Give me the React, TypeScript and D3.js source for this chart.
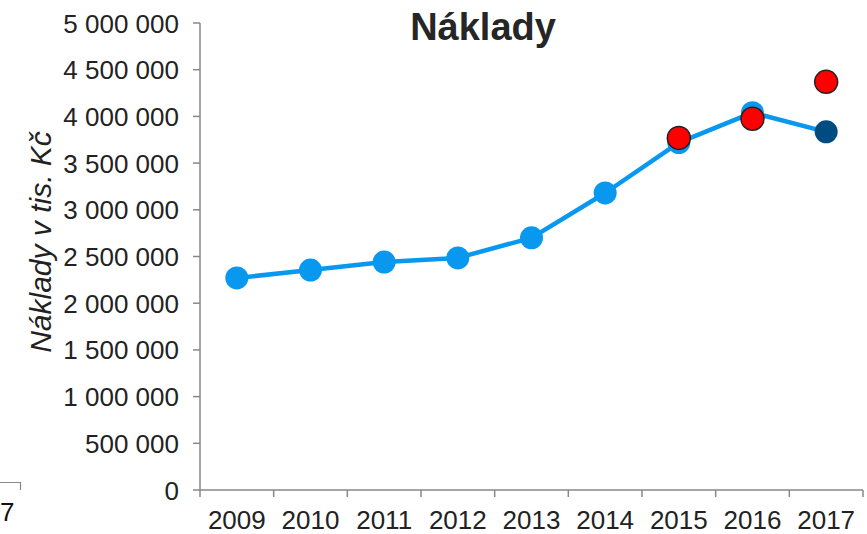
import { useEffect, useRef } from 'react';
import * as d3 from 'd3';

const years = ['2009', '2010', '2011', '2012', '2013', '2014', '2015', '2016', '2017'];
const costs = [2270000, 2355000, 2440000, 2485000, 2700000, 3180000, 3720000, 4040000, 3835000];
const redYears = ['2015', '2016', '2017'];
const redCosts = [3770000, 3975000, 4370000];
const yTicks = d3.range(0, 5000001, 500000);

const W = 867;
const H = 534;

export default function App() {
  const svgRef = useRef<SVGSVGElement | null>(null);

  useEffect(() => {
    if (!svgRef.current) return;
    const svg = d3.select(svgRef.current);
    svg.selectAll('*').remove();

    const font = '"Liberation Sans", Arial, sans-serif';
    const axisColor = '#888888';
    const blue = '#0898ef';

    const x = d3.scaleBand().domain(years).range([200, 863]);
    const y = d3.scaleLinear().domain([0, 5000000]).range([490, 23]);
    const cx = (yr: string) => (x(yr) ?? 0) + x.bandwidth() / 2;
    const fmt = (v: number) => d3.format(',')(v).replace(/,/g, ' ');

    // stray bits of the neighbouring chart
    svg.append('path')
      .attr('d', 'M0,482.5H20.5V490')
      .attr('fill', 'none')
      .attr('stroke', axisColor)
      .attr('stroke-width', 1.2);
    svg.append('text')
      .attr('x', 0)
      .attr('y', 521)
      .attr('font-family', font)
      .attr('font-size', 26)
      .attr('fill', '#111')
      .text('7');

    // y axis
    svg.append('line')
      .attr('x1', 200).attr('x2', 200)
      .attr('y1', y(5000000)).attr('y2', y(0))
      .attr('stroke', axisColor).attr('stroke-width', 1.5);
    svg.append('g')
      .selectAll('line')
      .data(yTicks)
      .join('line')
      .attr('x1', 193).attr('x2', 200)
      .attr('y1', (d) => y(d)).attr('y2', (d) => y(d))
      .attr('stroke', axisColor).attr('stroke-width', 1.5);
    svg.append('g')
      .selectAll('text')
      .data(yTicks)
      .join('text')
      .attr('x', 179)
      .attr('y', (d) => y(d) + 9.5)
      .attr('text-anchor', 'end')
      .attr('font-family', font)
      .attr('font-size', 26)
      .attr('fill', '#222')
      .text((d) => fmt(d));

    // x axis
    svg.append('line')
      .attr('x1', 200).attr('x2', 863)
      .attr('y1', y(0)).attr('y2', y(0))
      .attr('stroke', axisColor).attr('stroke-width', 1.5);
    const tickXs = years.map((yr) => x(yr) ?? 0).concat([863]);
    svg.append('g')
      .selectAll('line')
      .data(tickXs)
      .join('line')
      .attr('x1', (d) => d).attr('x2', (d) => d)
      .attr('y1', 490).attr('y2', 497)
      .attr('stroke', axisColor).attr('stroke-width', 1.5);
    svg.append('g')
      .selectAll('text')
      .data(years)
      .join('text')
      .attr('x', (d) => cx(d))
      .attr('y', 529)
      .attr('text-anchor', 'middle')
      .attr('font-family', font)
      .attr('font-size', 26)
      .attr('fill', '#222')
      .text((d) => d);

    // title and axis label
    svg.append('text')
      .attr('x', 483)
      .attr('y', 40)
      .attr('text-anchor', 'middle')
      .attr('font-family', font)
      .attr('font-size', 38)
      .attr('font-weight', 'bold')
      .attr('fill', '#262626')
      .text('Náklady');
    svg.append('text')
      .attr('transform', 'translate(51,242) rotate(-90)')
      .attr('text-anchor', 'middle')
      .attr('font-family', font)
      .attr('font-size', 30)
      .attr('font-style', 'italic')
      .attr('fill', '#222')
      .text('Náklady v tis. Kč');

    // line series
    const pts = years.map((yr, i) => ({ yr, v: costs[i] }));
    const line = d3.line<{ yr: string; v: number }>()
      .x((d) => cx(d.yr))
      .y((d) => y(d.v));
    svg.append('path')
      .datum(pts)
      .attr('d', line)
      .attr('fill', 'none')
      .attr('stroke', blue)
      .attr('stroke-width', 4.5)
      .attr('stroke-linejoin', 'round');
    svg.append('g')
      .selectAll('circle')
      .data(pts)
      .join('circle')
      .attr('cx', (d) => cx(d.yr))
      .attr('cy', (d) => y(d.v))
      .attr('r', 11.5)
      .attr('fill', (d) => (d.yr === '2017' ? '#004c80' : blue));

    // red points
    svg.append('g')
      .selectAll('circle')
      .data(redYears.map((yr, i) => ({ yr, v: redCosts[i] })))
      .join('circle')
      .attr('cx', (d) => cx(d.yr))
      .attr('cy', (d) => y(d.v))
      .attr('r', 11.5)
      .attr('fill', '#ff0000')
      .attr('stroke', '#222')
      .attr('stroke-width', 1.5);
  }, []);

  return (
    <svg
      ref={svgRef}
      width={W}
      height={H}
      style={{ position: 'absolute', left: 0, top: 0, background: '#fff' }}
    />
  );
}
